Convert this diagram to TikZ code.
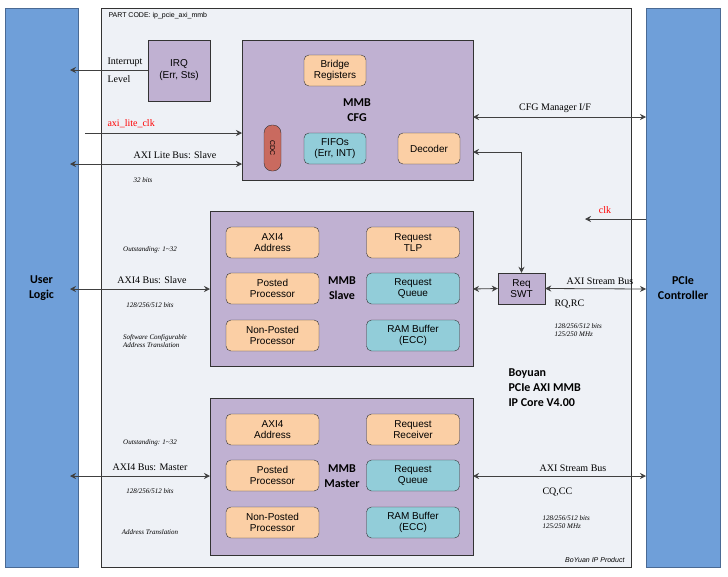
\documentclass[tikz,border=0pt]{standalone}
\usepackage{fontspec}
\setmainfont{Liberation Serif}
\newfontfamily\boxfont{Liberation Sans}
\newfontfamily\titlefont{Carlito}
\usetikzlibrary{positioning,arrows.meta}
\definecolor{ulblue}{HTML}{6F9FD9}
\definecolor{uledge}{HTML}{4A6A94}
\definecolor{panel}{HTML}{EEF1F6}
\definecolor{mmbpurple}{HTML}{C0B1D2}
\definecolor{suborange}{HTML}{FBCFA5}
\definecolor{subcyan}{HTML}{92CDD9}
\definecolor{cdcred}{HTML}{C96A5F}
\definecolor{lnk}{HTML}{404040}
\tikzset{
  side/.style={draw=uledge, fill=ulblue, thick},
  mmb/.style={draw=black!80, fill=mmbpurple},
  sub/.style={draw=black!80, rounded corners=5, minimum width=93, minimum height=31, align=center, font=\boxfont\fontsize{10}{11}\selectfont},
  lbl/.style={font=\fontsize{10}{11}\selectfont},
  note/.style={font=\itshape\fontsize{7}{8}\selectfont, align=left},
  ttl/.style={font=\titlefont\bfseries\fontsize{12}{15}\selectfont, align=center},
  bus/.style={thick, lnk, >={Stealth[length=6pt, width=6pt]}},
}
\begin{document}
\begin{tikzpicture}[x=1pt, y=-1pt, thin]
  \useasboundingbox (0,0) rectangle (728,576);

  % Frames
  \draw[side] (5,8) rectangle (78,567);
  \draw[side] (646,8) rectangle (720,567);
  \draw[black!80, fill=panel] (101,8) rectangle (631,567);
  \draw (41.5,288)  node(UL) [ttl] {User\\Logic};
  \draw (683,288)   node(PC) [ttl] {PCIe\\Controller};
  \draw (105,16)    node[anchor=west, font=\boxfont\fontsize{7}{8}\selectfont] {PART CODE: ip\_pcie\_axi\_mmb};
  \draw (628,560)   node[anchor=east, font=\boxfont\itshape\fontsize{7}{8}\selectfont] {BoYuan IP Product};

  % Blocks
  \draw[mmb] (148,40) rectangle (210,101);
  \draw (179,70.5)  node(IRQ) [align=center, font=\boxfont\fontsize{10}{12}\selectfont] {IRQ\\(Err, Sts)};
  \draw[mmb] (242,40) rectangle (473,180);
  \draw[mmb] (210,211) rectangle (473,366);
  \draw[mmb] (210,398) rectangle (473,555);
  \draw (357,110)   node(CFGt) [ttl] {MMB\\CFG};
  \draw (342,288)   node(SLt)  [ttl] {MMB\\Slave};
  \draw (342,476)   node(MAt)  [ttl] {MMB\\Master};

  % CFG contents
  \draw (335,70.5)  node(BR)  [sub, fill=suborange, minimum width=62] {Bridge\\Registers};
  \draw (335,148.5) node(FF)  [sub, fill=subcyan, minimum width=62] {FIFOs\\(Err, INT)};
  \draw (429,148.5) node(DEC) [sub, fill=suborange, minimum width=62] {Decoder};
  \draw (272.5,148) node(CDC) [draw=black!80, fill=cdcred, rounded corners=8, minimum width=46, minimum height=17, rotate=-90, font=\boxfont\fontsize{7}{8}\selectfont] {CDC};

  % Slave contents
  \draw (272.5,242.5) node(SA)  [sub, fill=suborange] {AXI4\\Address};
  \draw (272.5,288.5) node(SP)  [sub, fill=suborange] {Posted\\Processor};
  \draw (272.5,335.5) node(SN)  [sub, fill=suborange] {Non-Posted\\Processor};
  \draw (413,242.5)   node(ST)  [sub, fill=suborange] {Request\\TLP};
  \draw (413,288.5)   node(SQ)  [sub, fill=subcyan] {Request\\Queue};
  \draw (413,335.5)   node(SR)  [sub, fill=subcyan] {RAM Buffer\\(ECC)};

  % Master contents
  \draw (272.5,429.5) node(MA)  [sub, fill=suborange] {AXI4\\Address};
  \draw (272.5,475.5) node(MP)  [sub, fill=suborange] {Posted\\Processor};
  \draw (272.5,522.5) node(MN)  [sub, fill=suborange] {Non-Posted\\Processor};
  \draw (413,429.5)   node(MR)  [sub, fill=suborange] {Request\\Receiver};
  \draw (413,475.5)   node(MQ)  [sub, fill=subcyan] {Request\\Queue};
  \draw (413,522.5)   node(MR2) [sub, fill=subcyan] {RAM Buffer\\(ECC)};

  \draw (521.5,288.5) node(SWT) [draw=black!80, fill=mmbpurple, minimum width=47, minimum height=31, align=center, font=\boxfont\fontsize{10}{11}\selectfont] {Req\\SWT};

  % Coordinates
  \coordinate (irqL) at (70,70);   \coordinate (irqR) at (148,70);
  \coordinate (lcS)  at (85,133);  \coordinate (lcE)  at (242,133);
  \coordinate (alL)  at (70,164);  \coordinate (alR)  at (242,164);
  \coordinate (cmL)  at (473,117); \coordinate (cmR)  at (646,117);
  \coordinate (dcL)  at (473,152); \coordinate (dcC)  at (521.5,152);
  \coordinate (ckS)  at (646,219); \coordinate (ckE)  at (585,219);
  \coordinate (asL)  at (70,289);  \coordinate (asR)  at (210,289);
  \coordinate (ssL)  at (473,289);
  \coordinate (spR)  at (646,289);
  \coordinate (amL)  at (70,476);  \coordinate (amR)  at (210,476);
  \coordinate (msL)  at (473,476); \coordinate (msR)  at (646,476);

  % Edges
  \path[bus, ->]  (irqR) edge (irqL);
  \path[bus, ->]  (lcS)  edge (lcE);
  \path[bus, <->] (alL)  edge (alR);
  \path[bus, <->] (cmL)  edge (cmR);
  \draw[bus, <->] (dcL) -- (dcC) -- (SWT.north);
  \path[bus, ->]  (ckS)  edge (ckE);
  \path[bus, <->] (asL)  edge (asR);
  \path[bus, <->] (ssL)  edge (SWT.west);
  \path[bus, <->] (SWT.east) edge (spR);
  \path[bus, <->] (amL)  edge (amR);
  \path[bus, <->] (msL)  edge (msR);

  % Labels
  \draw (104,62)  node[lbl, anchor=west] {Interrupt};
  \draw (104,79)  node[lbl, anchor=west] {Level};
  \draw (104,124) node[lbl, anchor=west, red] {axi\_lite\_clk};
  \draw (175,155) node[lbl] {AXI Lite Bus: Slave};
  \draw (143,180) node[note] {32 bits};
  \draw (555,108) node[lbl] {CFG Manager I/F};
  \draw (605,210) node[lbl, red] {clk};
  \draw (150,250) node[note] {Outstanding: 1\textasciitilde32};
  \draw (152,280) node[lbl] {AXI4 Bus: Slave};
  \draw (150,305) node[note] {128/256/512 bits};
  \draw (155,341) node[note] {Software Configurable\\Address Translation};
  \draw (600,281) node[lbl] {AXI Stream Bus};
  \draw (551,304) node[lbl, anchor=west] {RQ,RC};
  \draw (551,330) node[note, anchor=west] {128/256/512 bits\\125/250 MHz};
  \draw (505,388) node[ttl, anchor=west, align=left] {Boyuan\\PCIe AXI MMB\\IP Core V4.00};
  \draw (150,443) node[note] {Outstanding: 1\textasciitilde32};
  \draw (150,467) node[lbl] {AXI4 Bus: Master};
  \draw (150,491) node[note] {128/256/512 bits};
  \draw (150,532) node[note] {Address Translation};
  \draw (573,468) node[lbl] {AXI Stream Bus};
  \draw (539,492) node[lbl, anchor=west] {CQ,CC};
  \draw (539,522) node[note, anchor=west] {128/256/512 bits\\125/250 MHz};
\end{tikzpicture}
\end{document}
